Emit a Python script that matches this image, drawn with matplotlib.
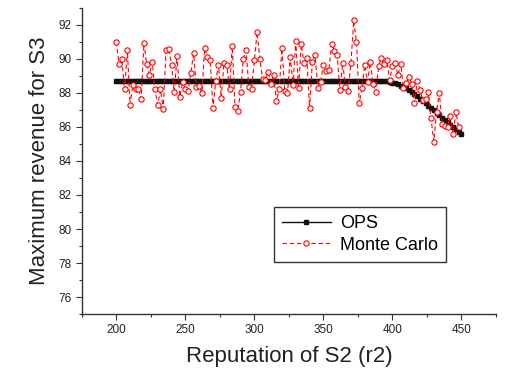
import numpy as np
import matplotlib
matplotlib.use("Agg")
import matplotlib.pyplot as plt
from matplotlib.ticker import MultipleLocator

plt.rcParams['font.family'] = ['Liberation Sans', 'DejaVu Sans']

# Reputation of S2 (x values)
ops_x = np.arange(200, 451, 2)
mc_x = np.arange(200, 449, 2)

# OPS values
ops_y = [
    88.72, 88.72, 88.72, 88.72, 88.72, 88.72, 88.72, 88.72, 88.72, 88.72,
    88.72, 88.72, 88.72, 88.72, 88.72, 88.72, 88.72, 88.72, 88.72, 88.72,
    88.72, 88.72, 88.72, 88.72, 88.72, 88.72, 88.72, 88.72, 88.72, 88.72,
    88.72, 88.72, 88.72, 88.72, 88.72, 88.72, 88.72, 88.72, 88.72, 88.72,
    88.72, 88.72, 88.72, 88.72, 88.72, 88.72, 88.72, 88.72, 88.72, 88.72,
    88.72, 88.72, 88.72, 88.72, 88.72, 88.72, 88.72, 88.72, 88.72, 88.72,
    88.72, 88.72, 88.72, 88.72, 88.72, 88.72, 88.72, 88.72, 88.72, 88.72,
    88.72, 88.72, 88.72, 88.72, 88.72, 88.72, 88.72, 88.72, 88.72, 88.72,
    88.72, 88.72, 88.72, 88.72, 88.72, 88.72, 88.72, 88.72, 88.72, 88.72,
    88.72, 88.72, 88.72, 88.72, 88.72,
    88.72, 88.71, 88.70, 88.68, 88.65, 88.61, 88.56, 88.50, 88.43, 88.35,
    88.26, 88.16, 88.05, 87.93, 87.80, 87.67, 87.53, 87.39, 87.25, 87.11,
    86.97, 86.83, 86.69, 86.55, 86.41, 86.27, 86.13, 85.99, 85.85, 85.71,
    85.57,
]

# Monte Carlo values
mc_y = [
    91.00, 89.70, 90.00, 88.20, 90.50, 87.30, 88.46, 88.20, 88.20, 87.66,
    90.93, 89.70, 89.05, 89.83, 88.20, 87.30, 88.20, 87.05, 90.50, 90.60,
    89.66, 88.03, 90.19, 87.78, 88.62, 88.25, 88.10, 89.17, 90.32, 88.36,
    88.42, 87.99, 90.62, 90.13, 89.93, 87.10, 88.69, 89.64, 87.70, 89.78,
    89.66, 88.25, 90.75, 87.16, 86.93,
    88.07, 90.01, 90.50, 88.34, 88.25, 89.91, 91.58, 90.01, 88.79, 88.75,
    89.22, 88.54, 89.05, 87.50, 88.25, 90.62, 88.10, 87.99, 90.09, 88.44,
    91.03, 88.30, 90.85, 89.78, 90.07, 87.09, 89.83, 90.22, 88.30, 88.64,
    89.66, 89.28, 89.32, 90.89, 90.46, 90.20, 88.15, 89.78, 88.34, 88.10,
    89.78, 92.26, 90.99, 87.38, 88.30, 89.64,
    88.66, 89.80, 88.52, 88.03, 89.58, 90.03, 89.68, 89.93, 88.74, 89.56,
    89.78, 89.03, 89.72, 88.26, 88.60, 88.91,
    88.54, 87.42, 88.69, 88.16, 87.58, 87.62, 88.07, 86.50, 85.13, 86.89,
    88.01, 86.15, 86.05, 86.01, 86.64, 85.60, 86.87, 85.99,
]

fig = plt.figure(figsize=(5.05, 3.73), dpi=100)
ax = fig.add_axes([0.162, 0.158, 0.820, 0.821])

ax.plot(ops_x, ops_y, color='#111111', linestyle='-', linewidth=2.2,
        marker='s', markersize=3.0, markerfacecolor='#111111',
        markeredgecolor='#111111', label='OPS', zorder=2)
ax.plot(mc_x, mc_y, color='red', linestyle=(0, (4, 2.5)), linewidth=0.8,
        marker='o', markersize=3.8, markerfacecolor='white',
        markeredgecolor='red', markeredgewidth=0.8, label='Monte Carlo', zorder=3)

ax.set_xlim(175, 475)
ax.set_ylim(75, 93)
ax.xaxis.set_major_locator(MultipleLocator(50))
ax.xaxis.set_minor_locator(MultipleLocator(25))
ax.yaxis.set_major_locator(MultipleLocator(2))
ax.yaxis.set_minor_locator(MultipleLocator(1))

for s in ['top', 'right']:
    ax.spines[s].set_visible(False)
for s in ['left', 'bottom']:
    ax.spines[s].set_color('#333333')
    ax.spines[s].set_linewidth(1.0)

ax.tick_params(which='major', direction='out', length=4, width=0.8,
               colors='#333333', labelsize=8.5, labelcolor='#222222')
ax.tick_params(which='minor', direction='out', length=2.5, width=0.8,
               colors='#333333')

ax.set_xlabel('Reputation of S2 (r2)', fontsize=16, color='#222222', labelpad=7)
ax.set_ylabel('Maximum revenue for S3', fontsize=16, color='#222222', labelpad=6)

handles, labels = ax.get_legend_handles_labels()
handles[0] = matplotlib.lines.Line2D([], [], color='#111111', linewidth=1.0,
                                     marker='s', markersize=3.0)
leg = ax.legend(handles, labels, loc='upper left', bbox_to_anchor=(0.464, 0.35),
                borderaxespad=0, fontsize=13, frameon=True, fancybox=False,
                handlelength=2.7, borderpad=0.45, labelspacing=0.25,
                handletextpad=0.5)
leg.get_frame().set_edgecolor('black')
leg.get_frame().set_linewidth(1.0)

fig.savefig('out.png', dpi=100)
